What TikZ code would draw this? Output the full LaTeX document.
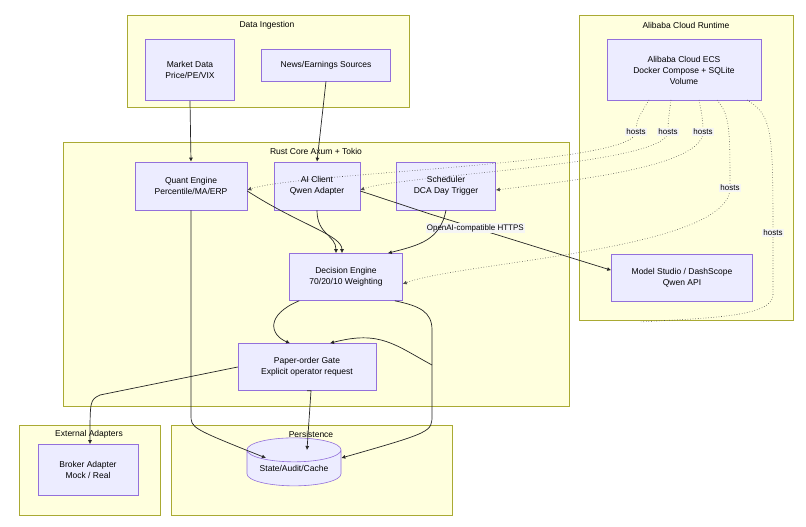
\documentclass[tikz,border=0pt]{standalone}
\usepackage{fontspec}
\setmainfont{Liberation Sans}
\usetikzlibrary{shapes.geometric,arrows.meta}
\definecolor{clfill}{HTML}{FFFFDE}
\definecolor{cldraw}{HTML}{AAAA33}
\definecolor{ndfill}{HTML}{ECECFF}
\definecolor{nddraw}{HTML}{9370DB}
\begin{document}
\begin{tikzpicture}[x=1pt,y=-1pt,font=\fontsize{8.5}{11}\selectfont,
  cluster/.style={draw=cldraw,fill=clfill,line width=0.6pt},
  box/.style={draw=nddraw,fill=ndfill,line width=0.6pt,align=center,inner sep=0pt},
  edge/.style={draw=black!85,line width=0.7pt,-{Latex[length=4pt,width=4pt]}},
  dot/.style={draw=black!70,line width=0.6pt,dotted,-{Latex[length=4pt,width=4pt]}},
  lbl/.style={fill=white!92!gray,inner sep=1pt,font=\fontsize{8}{10}\selectfont}]
\useasboundingbox (0,0) rectangle (806,527);
\fill[white] (0,0) rectangle (806,527);
% clusters
\draw[cluster] (127,15) rectangle (409,107);
\node at (267,25) {Data Ingestion};
\draw[cluster] (579,15) rectangle (793,320);
\node at (686,25) {Alibaba Cloud Runtime};
\draw[cluster] (63,142) rectangle (569,406);
\node (rustlbl) at (316,151) {Rust Core Axum + Tokio};
\draw[cluster] (19,425) rectangle (160,515);
\node at (89,434) {External Adapters};
\draw[cluster] (171,425) rectangle (452,515);
\node (perslbl) at (311,434) {Persistence};
% nodes
\node[box,minimum width=89,minimum height=61] (market) at (190,70) {Market Data\\Price/PE/VIX};
\node[box,minimum width=129,minimum height=32] (news) at (326,65) {News/Earnings Sources};
\node[box,minimum width=154,minimum height=61] (ecs) at (684,70) {Alibaba Cloud ECS\\Docker Compose + SQLite\\Volume};
\node[box,minimum width=112,minimum height=48] (quant) at (191,186) {Quant Engine\\Percentile/MA/ERP};
\node[box,minimum width=86,minimum height=48] (ai) at (317,186) {AI Client\\Qwen Adapter};
\node[box,minimum width=99,minimum height=48] (sched) at (446,186) {Scheduler\\DCA Day Trigger};
\node[box,minimum width=113,minimum height=47] (dec) at (346,277) {Decision Engine\\70/20/10 Weighting};
\node[box,minimum width=141,minimum height=47] (model) at (682,278) {Model Studio / DashScope\\Qwen API};
\node[box,minimum width=138,minimum height=47] (gate) at (307,367) {Paper-order Gate\\Explicit operator request};
\node[box,minimum width=100,minimum height=51] (broker) at (88,470) {Broker Adapter\\Mock / Real};
\node[box,cylinder,shape border rotate=90,aspect=0.35,minimum width=94,minimum height=48] (state) at (294,468) {State/Audit/Cache};
% solid edges
\draw[edge] (market.south) -- (quant.north);
\draw[edge] (news.south) -- (ai.north);
\draw[edge] (quant.south) -- (191,415) .. controls (191,428) .. (state.north west |- 0,458);
\draw[edge] ([yshift=-5pt]quant.east) .. controls (300,225) and (342,235) .. ([xshift=-4pt]dec.north);
\draw[edge] (ai.south) .. controls (317,235) and (336,235) .. ([xshift=-10pt]dec.north);
\draw[edge] ([yshift=-5pt]ai.east) -- (430,214) -- node[lbl,pos=0.25]{OpenAI-compatible HTTPS} ([yshift=-16pt]model.north west);
\draw[edge] (sched.south) .. controls (440,240) and (420,245) .. ([xshift=-15pt]dec.north east);
\draw[edge] ([xshift=10pt]dec.south west) .. controls (265,315) and (270,335) .. ([xshift=-17pt]gate.north);
\draw[edge] ([xshift=-8pt]dec.south east) .. controls (420,306) and (432,312) .. (432,330) -- (432,415) .. controls (432,432) .. (state.east |- 0,458);
\coordinate (gin) at (432,365);
\draw[edge] (gin) .. controls (395,345) and (380,330) .. ([xshift=23pt]gate.north);
\draw[edge] (gate.west) -- (100,395) .. controls (90,400) .. ([xshift=2pt]broker.north);
\draw[edge] (gate.south) -- (perslbl.north |- gate.south) -- (307,450);
% dotted hosts
\draw[dot] (649,100) .. controls (640,115) and (636,120) .. (636,132) node[lbl]{hosts} .. controls (636,165) and (300,172) .. ([yshift=-4pt]quant.east);
\draw[dot] (671,100) .. controls (669,115) and (668,120) .. (668,132) node[lbl]{hosts} .. controls (668,165) and (400,175) .. ([yshift=-4pt]ai.east);
\draw[dot] (699,100) .. controls (702,115) and (703,120) .. (703,132) node[lbl]{hosts} .. controls (703,168) and (560,182) .. ([yshift=-4pt]sched.east);
\draw[dot] (717,100) .. controls (730,115) and (730,130) .. (730,188) node[lbl]{hosts} .. controls (730,250) and (460,262) .. ([yshift=-7pt]dec.east);
\coordinate (hostend) at (640,322);
\draw[draw=black!70,line width=0.6pt,dotted] (747,100) .. controls (772,115) and (773,130) .. (773,233) node[lbl]{hosts} -- (773,295) .. controls (773,318) and (700,318) .. (hostend);
\end{tikzpicture}
\end{document}
